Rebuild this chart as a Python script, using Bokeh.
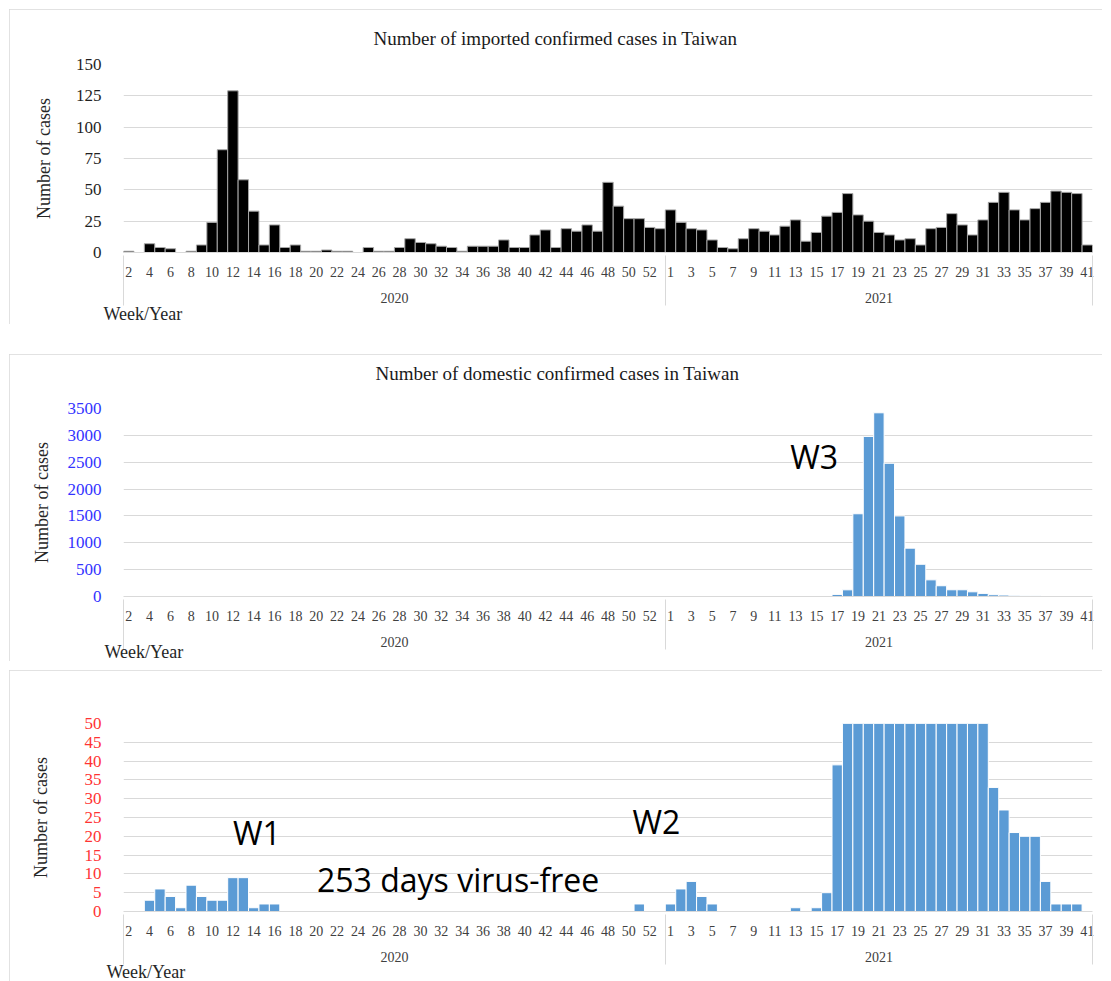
from bokeh.plotting import figure
from bokeh.models import Range1d, FixedTicker, LinearAxis, Label, Spacer, Title
from bokeh.layouts import column
from bokeh.embed import file_html
from bokeh.resources import INLINE

# ---------------- data ----------------
weeks_2020 = [2, 3, 4, 5, 6, 7, 8, 9, 10, 11, 12, 13, 14, 15, 16, 17, 18, 19, 20, 21,
              22, 23, 24, 25, 26, 27, 28, 29, 30, 31, 32, 33, 34, 35, 36, 37, 38, 39, 40, 41,
              42, 43, 44, 45, 46, 47, 48, 49, 50, 51, 52, 53]
weeks_2021 = [1, 2, 3, 4, 5, 6, 7, 8, 9, 10, 11, 12, 13, 14, 15, 16, 17, 18, 19, 20,
              21, 22, 23, 24, 25, 26, 27, 28, 29, 30, 31, 32, 33, 34, 35, 36, 37, 38, 39, 40, 41]
years = ["2020", "2021"]

imported_2020 = [1, 0, 7, 4, 3, 0, 1, 6, 24, 82,
                 129, 58, 33, 6, 22, 4, 6, 1, 1, 2,
                 1, 1, 0, 4, 1, 1, 4, 11, 8, 7,
                 5, 4, 1, 5, 5, 5, 10, 4, 4, 14,
                 18, 4, 19, 17, 22, 17, 56, 37, 27, 27,
                 20, 19]
imported_2021 = [34, 24, 19, 18, 10, 4, 3, 11, 19, 17,
                 14, 21, 26, 9, 16, 29, 32, 47, 30, 25,
                 16, 14, 10, 11, 6, 19, 20, 31, 22, 14,
                 26, 40, 48, 34, 26, 35, 40, 49, 48, 47,
                 6]
domestic_2020 = [0, 0, 3, 6, 4, 1, 7, 4, 3, 3,
                 9, 9, 1, 2, 2, 0, 0, 0, 0, 0,
                 0, 0, 0, 0, 0, 0, 0, 0, 0, 0,
                 0, 0, 0, 0, 0, 0, 0, 0, 0, 0,
                 0, 0, 0, 0, 0, 0, 0, 0, 0, 2,
                 0, 0]
domestic_2021 = [2, 6, 8, 4, 2, 0, 0, 0, 0, 0,
                 0, 0, 1, 0, 1, 5, 39, 124, 1540, 2980,
                 3420, 2480, 1500, 900, 600, 310, 200, 125, 125, 87,
                 58, 33, 27, 21, 20, 20, 8, 2, 2, 2,
                 0]

y_ticks_imported = [0, 25, 50, 75, 100, 125, 150]
y_ticks_domestic = [0, 500, 1000, 1500, 2000, 2500, 3000, 3500]
y_ticks_zoomed = [0, 5, 10, 15, 20, 25, 30, 35, 40, 45, 50]

# ---------------- derived ----------------
n20, n21 = len(weeks_2020), len(weeks_2021)
N = n20 + n21
idx = list(range(N))
week_labels = [str(w) for w in weeks_2020] + [str(w) for w in weeks_2021]
label_pos = idx[::2]
year_centers = [(n20 - 1) / 2, n20 + (n21 - 1) / 2]
year_edges = [-0.49, n20 - 0.5, N - 0.51]

SERIF = "Liberation Serif"
SANS = "Open Sans"
W = 1093
M = 9          # page offset of the layout
GRID = "#d9d9d9"


def make_panel(height, top, mb_top, mb_bottom, mb_left, mb_right, ymax, yticks,
               ytick_color, counts, fill, line, ylab_standoff):
    p = figure(width=W, height=height, output_backend="svg", toolbar_location=None,
               title=None,
               x_range=Range1d(-0.5, N - 0.5), y_range=Range1d(0, ymax),
               min_border_top=mb_top, min_border_bottom=mb_bottom,
               min_border_left=mb_left, min_border_right=mb_right,
               x_axis_type=None)
    p.outline_line_color = None
    p.styles = {"outline": "1px solid #d9d9d9", "outline-offset": "-1px"}

    p.vbar(x=idx, top=counts, width=1.0, fill_color=fill, line_color=line, line_width=1)

    # y axis
    yax = p.yaxis[0]
    yax.ticker = FixedTicker(ticks=yticks)
    p.ygrid.ticker = FixedTicker(ticks=yticks)
    p.ygrid.grid_line_color = GRID
    p.ygrid.grid_line_width = 1
    yax.axis_line_color = None
    yax.major_tick_line_color = None
    yax.minor_tick_line_color = None
    yax.major_label_standoff = 16
    yax.major_label_text_font = SERIF
    yax.major_label_text_font_size = "17px"
    yax.major_label_text_color = ytick_color
    yax.axis_label = "Number of cases"
    yax.axis_label_text_font = SERIF
    yax.axis_label_text_font_size = "18px"
    yax.axis_label_text_font_style = "normal"
    yax.axis_label_text_color = "#262626"
    yax.axis_label_standoff = ylab_standoff

    # week axis
    ax1 = LinearAxis(ticker=FixedTicker(ticks=label_pos),
                     major_label_overrides={i: week_labels[i] for i in label_pos})
    ax1.axis_line_color = GRID
    ax1.major_tick_line_color = None
    ax1.minor_tick_line_color = None
    ax1.major_label_standoff = 8
    ax1.major_label_text_font = SERIF
    ax1.major_label_text_font_size = "14px"
    ax1.major_label_text_color = "#404040"
    p.add_layout(ax1, "below")

    # year axis with separators
    ax2 = LinearAxis(ticker=FixedTicker(ticks=year_centers, minor_ticks=year_edges),
                     major_label_overrides={c: y for c, y in zip(year_centers, years)})
    ax2.axis_line_color = None
    ax2.major_tick_line_color = None
    ax2.minor_tick_line_color = GRID
    ax2.minor_tick_in = 24
    ax2.minor_tick_out = 26
    ax2.major_label_standoff = -13
    ax2.major_label_text_font = SERIF
    ax2.major_label_text_font_size = "14px"
    ax2.major_label_text_color = "#404040"
    p.add_layout(ax2, "below")

    geo = dict(top=top, mb_top=mb_top, mb_left=mb_left, mb_right=mb_right,
               fh=height - mb_top - mb_bottom, ymax=ymax)
    return p, geo


def week_year(p, offset, standoff):
    p.add_layout(Title(text="Week/Year", align="left", offset=offset, vertical_align="top",
                       standoff=standoff, text_font=SERIF, text_font_size="18px",
                       text_font_style="normal", text_color="#262626"), "below")


def main_title(p, s, offset, standoff, valign):
    p.add_layout(Title(text=s, align="left", offset=offset, vertical_align=valign,
                       standoff=standoff, text_font=SERIF, text_font_size="19px",
                       text_font_style="normal", text_color="#1a1a1a"), "above")


def at(geo, px, py):
    fw = W - geo["mb_left"] - geo["mb_right"]
    x = -0.5 + (px - M - geo["mb_left"]) * N / fw
    y = geo["ymax"] - (py - geo["top"] - geo["mb_top"]) * geo["ymax"] / geo["fh"]
    return x, y


def text(p, geo, px, py, s, size="32px"):
    x, y = at(geo, px, py)
    p.add_layout(Label(x=x, y=y, text=s, text_font=SANS, text_font_size=size,
                       text_align="center", text_baseline="alphabetic", text_color="#000000"))


# ---------------- panel 1: imported ----------------
p1, g1 = make_panel(315, 9, 55, 71, 114, 5, 150, y_ticks_imported, "#1f1f1f",
                    imported_2020 + imported_2021, "#000000", "#a6a6a6", 19)
main_title(p1, "Number of imported confirmed cases in Taiwan", 250, 32, "bottom")
week_year(p1, -20, -3)

# ---------------- panel 2: domestic ----------------
p2, g2 = make_panel(307, 354, 54, 65, 113, 9, 3500, y_ticks_domestic, "#3333ff",
                    domestic_2020 + domestic_2021, "#5b9bd5", "#ffffff", 13)
p2.add_layout(Title(text=" ", text_font_size="8px", standoff=5), "above")
main_title(p2, "Number of domestic confirmed cases in Taiwan", 252, 15, "middle")
text(p2, g2, 814, 456, "W3")
week_year(p2, -19, -15)

# ---------------- panel 3: domestic, zoomed ----------------
p3, g3 = make_panel(311, 670, 53, 69, 110, 10, 50, y_ticks_zoomed, "#ff3333",
                    domestic_2020 + domestic_2021, "#5b9bd5", "#ffffff", 31)
text(p3, g3, 253, 833, "W1")
text(p3, g3, 654, 822, "W2")
text(p3, g3, 455, 880, "253 days virus-free")
week_year(p3, -17, -5)

layout = column(p1, Spacer(height=30), p2, Spacer(height=9), p3, margin=(M, 0, 0, M))
open("out.html", "w").write(file_html(layout, INLINE))
